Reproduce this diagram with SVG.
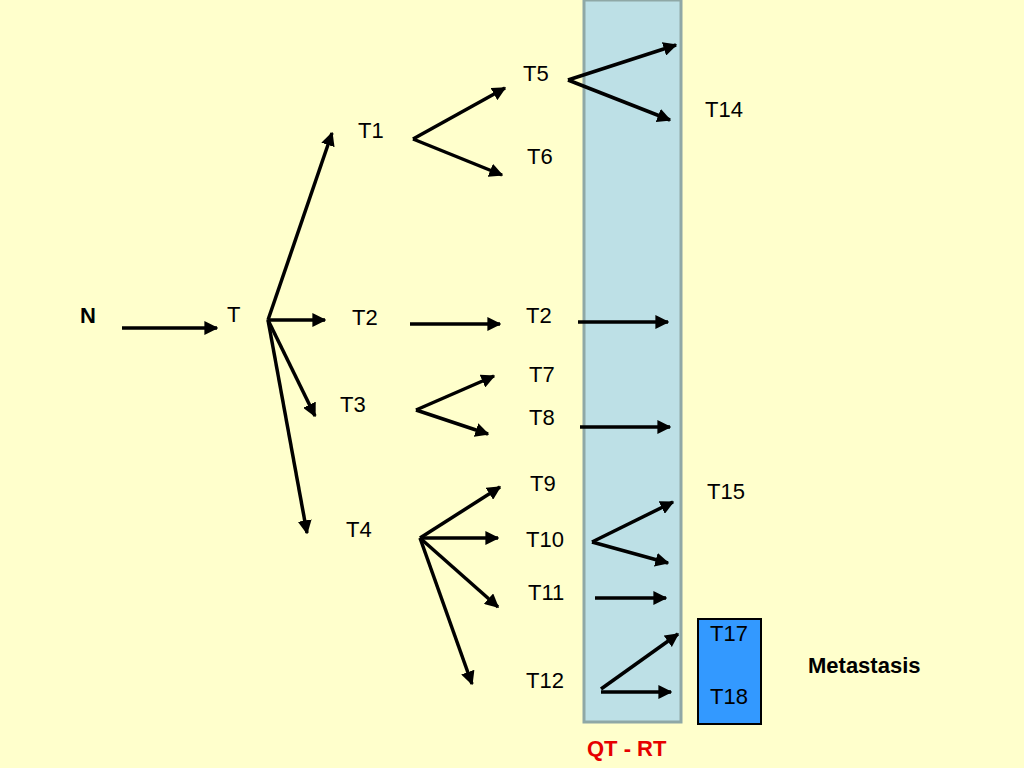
<svg xmlns="http://www.w3.org/2000/svg" width="1024" height="768" viewBox="0 0 1024 768">
<defs>
<marker id="ah" viewBox="0 0 10 10" refX="9" refY="5" markerWidth="4" markerHeight="4" orient="auto" markerUnits="strokeWidth"><path d="M0,0 L10,5 L0,10 z" fill="#000"/></marker>
<style>
text{font-family:"Liberation Sans",Arial,sans-serif;font-size:22px;fill:#000}
.b{font-weight:bold}
#connectors line{stroke:#000;stroke-width:3.5;marker-end:url(#ah)}
</style>
</defs>
<rect width="1024" height="768" fill="#ffffcc"/>
<rect id="column" x="584" y="0" width="97" height="722" fill="#bde0e6" stroke="#8fa8a6" stroke-width="3"/>
<g id="box"><rect x="698" y="619" width="63" height="105" fill="#3399ff" stroke="#000" stroke-width="2"/></g>
<g id="connectors">
<line x1="122" y1="328" x2="217" y2="328"/>
<line x1="268" y1="320" x2="332" y2="133"/>
<line x1="268" y1="320" x2="325" y2="320"/>
<line x1="268" y1="320" x2="315" y2="416"/>
<line x1="268" y1="320" x2="307" y2="533"/>
<line x1="413" y1="139" x2="505" y2="88"/>
<line x1="413" y1="139" x2="502" y2="175"/>
<line x1="410" y1="324" x2="500" y2="324"/>
<line x1="416" y1="410" x2="494" y2="376"/>
<line x1="416" y1="410" x2="488" y2="434"/>
<line x1="420" y1="538" x2="500" y2="487"/>
<line x1="420" y1="538" x2="498" y2="538"/>
<line x1="420" y1="538" x2="498" y2="607"/>
<line x1="420" y1="538" x2="472" y2="684"/>
<line x1="568" y1="80" x2="676" y2="45"/>
<line x1="568" y1="80" x2="670" y2="120"/>
<line x1="578" y1="322" x2="668" y2="322"/>
<line x1="580" y1="427" x2="670" y2="427"/>
<line x1="592" y1="542" x2="673" y2="502"/>
<line x1="592" y1="542" x2="668" y2="563"/>
<line x1="595" y1="598" x2="666" y2="598"/>
<line x1="601" y1="689" x2="678" y2="634"/>
<line x1="601" y1="692" x2="671" y2="692"/>
</g>
<g id="n-N"><text x="80" y="323" class="b">N</text></g>
<g id="n-T"><text x="227" y="322">T</text></g>
<g id="n-T1"><text x="358" y="138">T1</text></g>
<g id="n-T2a"><text x="352" y="325">T2</text></g>
<g id="n-T3"><text x="340" y="412">T3</text></g>
<g id="n-T4"><text x="346" y="537">T4</text></g>
<g id="n-T5"><text x="523" y="81">T5</text></g>
<g id="n-T6"><text x="527" y="164">T6</text></g>
<g id="n-T2b"><text x="526" y="323">T2</text></g>
<g id="n-T7"><text x="529" y="382">T7</text></g>
<g id="n-T8"><text x="529" y="425">T8</text></g>
<g id="n-T9"><text x="530" y="491">T9</text></g>
<g id="n-T10"><text x="526" y="547">T10</text></g>
<g id="n-T11"><text x="528" y="600">T11</text></g>
<g id="n-T12"><text x="526" y="688">T12</text></g>
<g id="n-T14"><text x="705" y="117">T14</text></g>
<g id="n-T15"><text x="707" y="499">T15</text></g>
<g id="n-T17"><text x="710" y="641">T17</text></g>
<g id="n-T18"><text x="710" y="704">T18</text></g>
<g id="n-met"><text x="808" y="673" class="b">Metastasis</text></g>
<g id="n-qt"><text x="587" y="756" class="b" style="fill:#e60000">QT - RT</text></g>
</svg>
